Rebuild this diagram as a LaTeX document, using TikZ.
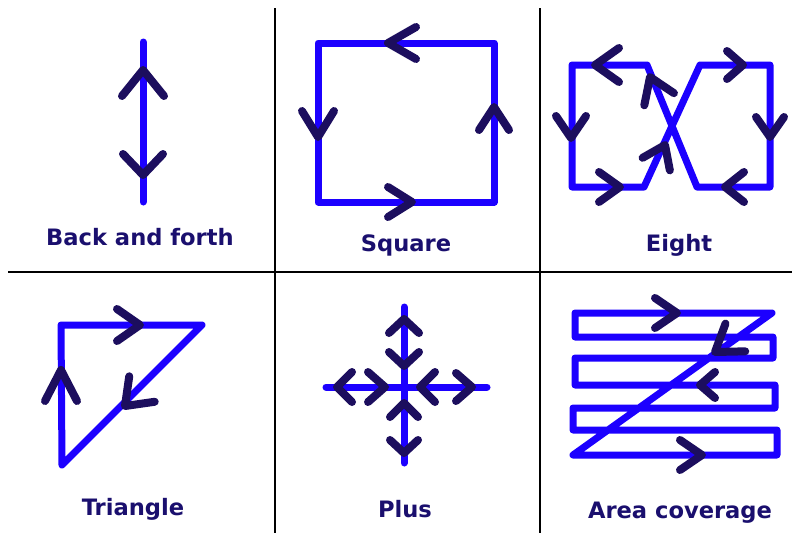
\documentclass[tikz,border=0pt]{standalone}
\usepackage{fontspec}
\setmainfont{DejaVu Sans}
\usetikzlibrary{arrows.meta}
\definecolor{pathblue}{HTML}{1C00FF}
\definecolor{chevnavy}{HTML}{1C0E5E}
\definecolor{labelnavy}{HTML}{1A0F6E}

\begin{document}
\begin{tikzpicture}[
  x=1pt,y=-1pt,
  route/.style={draw=pathblue,line width=7pt,line cap=round,line join=round},
  chevron/.style={draw=chevnavy,line width=8pt,line cap=round,line join=round},
  pics/chev/.style n args={2}{code={\draw[chevron] (-#1,#2) -- (0,0) -- (-#1,-#2);}},
  divider/.style={draw=black,line width=2pt},
  lbl/.style={font=\fontsize{22.6}{27}\selectfont\bfseries,text=labelnavy,anchor=base,inner sep=0pt}
]
\fill[white] (0,0) rectangle (792,533);
\useasboundingbox (0,0) rectangle (792,533);
% grid of six panels
\draw[divider] (275,8) -- (275,533);
\draw[divider] (540,8) -- (540,533);
\draw[divider] (8,272) -- (792,272);
% back and forth
\draw[route] (143,42) -- (143,202);
\foreach \x/\y/\a/\l/\w in {143/70/90/26/21,143/175/270/21/20}
  \pic[rotate=\a] at (\x,\y) {chev={\l}{\w}};
\node[lbl] (backforth) at (140,245) {Back and forth};
% square
\draw[route] (318,43) rectangle (494,202);
\foreach \x/\y/\a/\l/\w in {388/43/180/28/16,318/137/270/26/16,412/202/0/24/15,494/107/90/23/15}
  \pic[rotate=\a] at (\x,\y) {chev={\l}{\w}};
\node[lbl] (square) at (406,251.5) {Square};
% eight
\draw[route] (572,65) -- (647,65) -- (697,187) -- (770,187) -- (770,65) -- (700,65) -- (644,187) -- (572,187) -- cycle;
\foreach \x/\y/\a/\l/\w in {595/65/180/24/17,571/138/270/22/15,620/187/0/21/15,665/145/65.3/21/15,
  650/77/112.3/24/16,743/65/0/16/14,770/137/270/20/14,725/187/180/19/15}
  \pic[rotate=\a] at (\x,\y) {chev={\l}{\w}};
\node[lbl] (eight) at (679,251) {Eight};
% triangle
\draw[route] (61,325) -- (202,325) -- (62,465) -- cycle;
\foreach \x/\y/\a/\l/\w in {61/370/90/31/16,140/325/0/23/16,125/406/225/24/18}
  \pic[rotate=\a] at (\x,\y) {chev={\l}{\w}};
\node[lbl] (triangle) at (133,515) {Triangle};
% plus
\draw[route] (404,307) -- (404,463);
\draw[route] (326,387) -- (487,387);
\foreach \x/\y/\a/\l/\w in {404/319/90/14/15,404/366/270/14/15,404/403/90/14/14,404/453/270/13/14,
  337/387/180/15/15,385/387/0/17/15,420/387/180/15/15,472/387/0/16/14}
  \pic[rotate=\a] at (\x,\y) {chev={\l}{\w}};
\node[lbl] (plus) at (405,517.5) {Plus};
% area coverage
\draw[route] (575,313) -- (772,313) -- (573,455) -- (777,455) -- (777,430) -- (573,430) -- (573,408)
  -- (775,408) -- (775,385) -- (575,385) -- (575,358) -- (773,358) -- (773,337) -- (575,337) -- cycle;
\foreach \x/\y/\a/\l/\w in {677/313/0/22/15,715/352/215.5/25/17,700/385/180/15/13,702/455/0/22/15}
  \pic[rotate=\a] at (\x,\y) {chev={\l}{\w}};
\node[lbl] (coverage) at (680,518) {Area coverage};
\end{tikzpicture}
\end{document}
